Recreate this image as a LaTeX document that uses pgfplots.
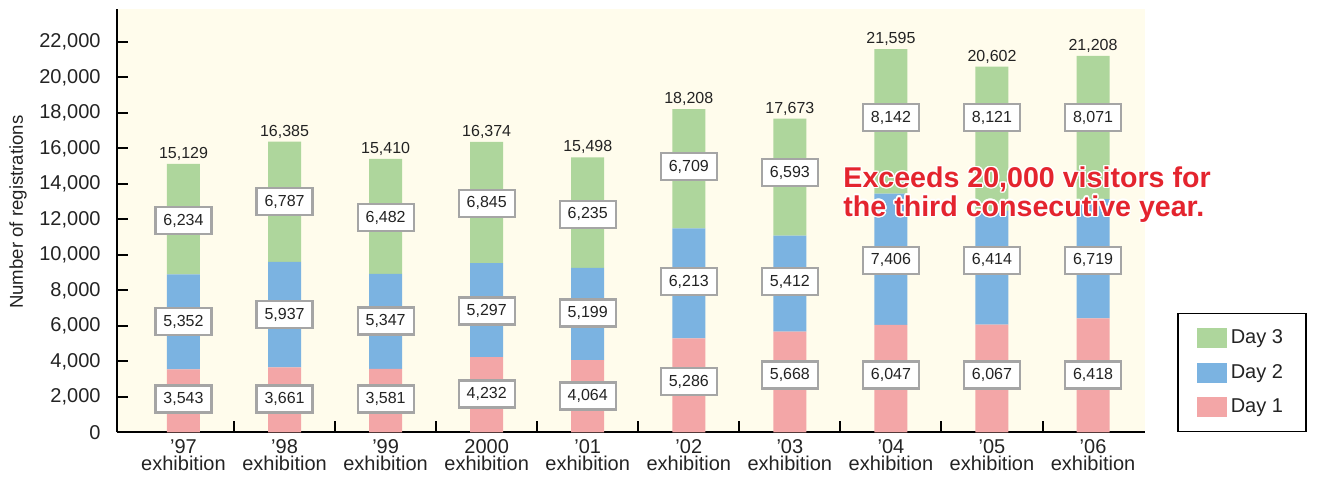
\documentclass[border=0pt]{standalone}
\usepackage{fontspec}
\setmainfont{Liberation Sans}
\usepackage{pgfplots}
\usepackage{pgfplotstable}
\usepackage{contour}
\pgfplotsset{compat=1.18}
\contourlength{0.7pt}

\definecolor{cream}{RGB}{255,252,236}
\definecolor{dgreen}{RGB}{174,214,156}
\definecolor{dblue}{RGB}{123,179,225}
\definecolor{dpink}{RGB}{243,166,167}
\definecolor{boxgray}{RGB}{165,165,165}
\definecolor{txt}{RGB}{35,35,35}
\definecolor{alertred}{RGB}{228,36,46}

% x = category, d1..d3 = visitors per day, tot = total,
% p1..p3 = height where each box label sits
\pgfplotstableread{
x d1 d2 d3 tot p1 p2 p3
0 3543 5352 6234 15129 1876 6240 11929
1 3661 5937 6787 16385 1876 6635 12999
2 3581 5347 6482 15410 1876 6269 12098
3 4232 5297 6845 16374 2157 6832 12915
4 4064 5199 6235 15498 2045 6719 12295
5 5286 6213 6709 18208 2850 8482 14959
6 5668 5412 6593 17673 3227 8482 14621
7 6047 7406 8142 21595 3227 9704 17719
8 6067 6414 8121 20602 3227 9704 17719
9 6418 6719 8071 21208 3227 9704 17719
}\data

\pgfplotsset{
  /pgf/number format/.cd, 1000 sep={,}, assume math mode=true,
  /pgfplots/.cd,
  base/.style={
    width=514pt, height=211.5pt, scale only axis,
    xmin=-0.658, xmax=9.514, ymin=0, ymax=23840,
  },
  boxlbl/.style={
    only marks, mark=none, nodes near coords, point meta=explicit,
    nodes near coords style={anchor=center, draw=boxgray, line width=1.1pt,
      fill=white, minimum width=28pt, minimum height=13.5pt, inner sep=0pt,
      text=txt, font=\fontsize{8}{9.6}\selectfont},
  },
}

\begin{document}
\begin{tikzpicture}
\begin{axis}[base,
  ybar stacked, bar width=16.5pt,
  axis x line*=bottom, axis y line*=left,
  axis line style={-, line width=1.1pt},
  axis background/.style={fill=cream},
  tick align=inside, major tick length=5.5pt,
  tick style={line width=1pt, black},
  xtick={0.5,1.5,...,8.5}, xticklabels={},
  extra x ticks={0,...,9},
  extra x tick labels={{’97\\exhibition},{’98\\exhibition},{’99\\exhibition},
    {2000\\exhibition},{’01\\exhibition},{’02\\exhibition},{’03\\exhibition},
    {’04\\exhibition},{’05\\exhibition},{’06\\exhibition}},
  extra x tick style={tick style={draw=none},
    xticklabel style={align=center, font=\fontsize{10}{8.8}\selectfont, text=txt}},
  ytick={0,2000,...,22000}, scaled y ticks=false,
  yticklabel style={font=\fontsize{10}{12}\selectfont, xshift=-4.7pt, text=txt},
  ylabel={Number of registrations},
  ylabel style={at={(axis description cs:0,0.5)}, anchor=center,
    xshift=4.3pt, yshift=49.5pt, font=\fontsize{9.3}{11}\selectfont, text=txt},
  reverse legend,
  legend image code/.code={\fill[#1] (0pt,-5pt) rectangle (15pt,5pt);},
  legend style={at={(1,0)}, anchor=south west, xshift=16pt,
    draw=black, line width=0.8pt, fill=white,
    inner xsep=9.5pt, inner ysep=6pt, row sep=4.8pt,
    nodes={inner sep=2pt, text depth=0.15em},
    /tikz/every even column/.append style={column sep=4.5pt},
    font=\fontsize{10}{12}\selectfont, text=txt},
  legend cell align=left,
]
\addplot[fill=dpink, draw=none] table[x=x, y=d1] {\data};
\addplot[fill=dblue, draw=none] table[x=x, y=d2] {\data};
\addplot[fill=dgreen, draw=none] table[x=x, y=d3] {\data};
\legend{Day 1, Day 2, Day 3}
\end{axis}

\begin{axis}[base, hide axis, clip=false]
\addplot[boxlbl] table[x=x, y=p1, meta=d1] {\data};
\addplot[boxlbl] table[x=x, y=p2, meta=d2] {\data};
\addplot[boxlbl] table[x=x, y=p3, meta=d3] {\data};
\addplot[only marks, mark=none, nodes near coords, point meta=explicit,
  nodes near coords style={anchor=base, yshift=2.75pt, inner sep=0pt,
    text=txt, font=\fontsize{8}{9.6}\selectfont}]
  table[x=x, y=tot, meta=tot] {\data};
\node[anchor=north west, inner sep=0pt, align=left, text=alertred,
  font=\fontsize{14.3}{14.4}\selectfont\bfseries]
  at (axis cs:6.526,14990)
  {\contour{white}{Exceeds 20,000 visitors for}\\
   \contour{white}{the third consecutive year.}};
\end{axis}

\path (0,0) ++(-58.5pt,-19.85pt) rectangle ++(659.5pt,236pt);
\end{tikzpicture}
\end{document}
